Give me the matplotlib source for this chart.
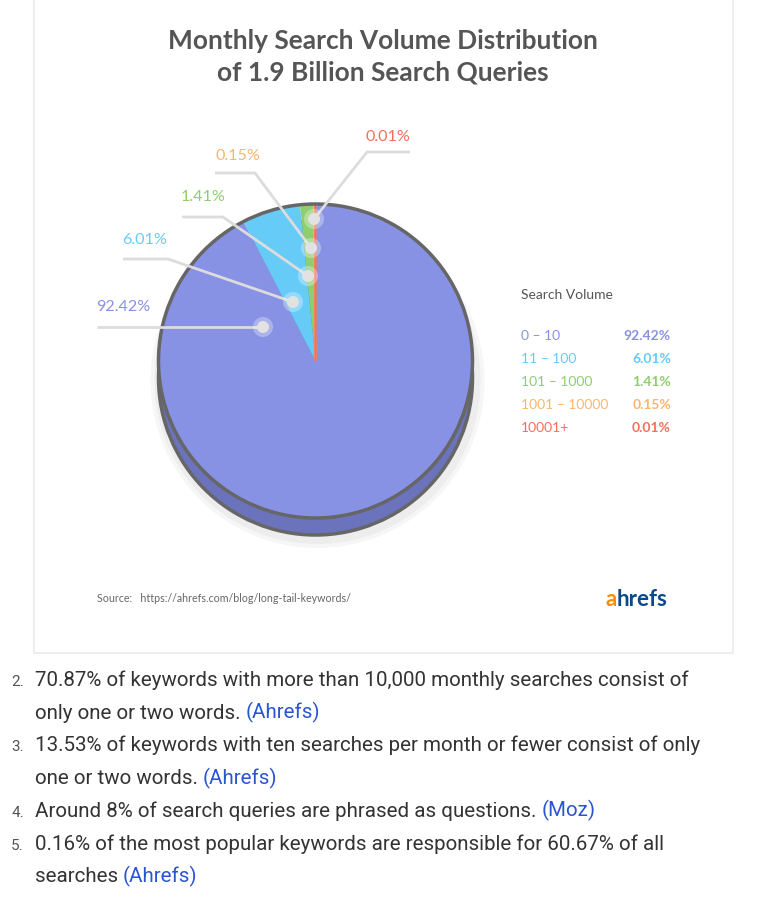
import matplotlib
matplotlib.use('Agg')
import matplotlib.pyplot as plt
from matplotlib.patches import Rectangle, Circle

# data
ranges = ['0 – 10', '11 – 100', '101 – 1000', '1001 – 10000', '10001+']
shares = [92.42, 6.01, 1.41, 0.15, 0.01]
colors = ['#8892e5', '#67cbf8', '#8fce6f', '#fbb56c', '#f2705b']
share_labels = ['92.42%', '6.01%', '1.41%', '0.15%', '0.01%']

notes = [
    ('2.', ['70.87% of keywords with more than 10,000 monthly searches consist of',
            'only one or two words.'], 'Ahrefs'),
    ('3.', ['13.53% of keywords with ten searches per month or fewer consist of only',
            'one or two words.'], 'Ahrefs'),
    ('4.', ['Around 8% of search queries are phrased as questions.'], 'Moz'),
    ('5.', ['0.16% of the most popular keywords are responsible for 60.67% of all',
            'searches'], 'Ahrefs'),
]

W, H = 758, 900
fig = plt.figure(figsize=(W / 100, H / 100), dpi=100)
ax = fig.add_axes([0, 0, 1, 1])


def Y(p):
    # pixel row (from top) -> data y
    return H - p


# card
ax.add_patch(Rectangle((33, Y(654)), 701, 656, facecolor='#eeeeee', edgecolor='none', zorder=0))
ax.add_patch(Rectangle((35, Y(652)), 697, 654, facecolor='white', edgecolor='none', zorder=0))

ax.text(383, Y(41), 'Monthly Search Volume Distribution', ha='center', va='center',
        fontsize=18.9, fontweight='bold', color='#555555', family='Lato')
ax.text(383, Y(72), 'of 1.9 Billion Search Queries', ha='center', va='center',
        fontsize=18.9, fontweight='bold', color='#555555', family='Lato')

# pie with a bit of depth
cx, cy, r = 315.5, 361, 157
for k, a in [(10, 0.25), (6, 0.35)]:
    ax.add_patch(Circle((cx + 2, Y(cy + 20)), r + k, facecolor='#dddddd', edgecolor='none',
                        alpha=a, zorder=1))
ax.add_patch(Circle((cx, Y(cy + 17)), r, facecolor='#6a73bb', edgecolor='#666666',
                    linewidth=2.5, zorder=2))
wedges, _ = ax.pie(shares, colors=colors, startangle=90, counterclock=False,
                   center=(cx, Y(cy)), radius=r, frame=True,
                   wedgeprops=dict(linewidth=0, zorder=3))
for w, c in zip(wedges[3:], colors[3:]):
    w.set_edgecolor(c)
    w.set_linewidth(1.2)
ax.add_patch(Circle((cx, Y(cy)), r, facecolor='none', edgecolor='#666666',
                    linewidth=2.5, zorder=4))

ax.set_xlim(0, W)
ax.set_ylim(0, H)
ax.set_aspect('auto')
ax.axis('off')

# leader lines: label position, elbow, dot
label_pos = [(96, 307), (122, 240), (181, 197), (215, 156), (365, 137)]
line_path = [
    [(97, 327), (263, 327)],
    [(123, 259), (168, 259), (293, 302)],
    [(182, 217), (223, 217), (308, 276)],
    [(215, 173), (255, 173), (311, 248)],
    [(410, 152), (367, 152), (314, 219)],
]
for lab, pos, path, c in zip(share_labels, label_pos, line_path, colors):
    xs = [p[0] for p in path]
    ys = [Y(p[1]) for p in path]
    ax.plot(xs, ys, color='#dcdcdc', linewidth=2, solid_capstyle='butt', zorder=5)
    ax.add_patch(Circle((xs[-1], ys[-1]), 10, facecolor='white', alpha=0.3,
                        edgecolor='none', zorder=6))
    ax.add_patch(Circle((xs[-1], ys[-1]), 6, facecolor='#e2e2e2', edgecolor='none', zorder=7))
    ax.text(pos[0], Y(pos[1]), lab, ha='left', va='center', fontsize=11.6,
            color=c, family='Lato')

# legend
ax.text(521, Y(295), 'Search Volume', ha='left', va='center', fontsize=10,
        color='#555555', family='Lato')
for i, (rg, lab, c) in enumerate(zip(ranges, share_labels, colors)):
    yy = Y(336 + 23 * i)
    ax.text(521, yy, rg, ha='left', va='center', fontsize=10, color=c, family='Lato')
    ax.text(671, yy, lab, ha='right', va='center', fontsize=10, color=c,
            family='Lato', fontweight='bold')

# footer
ax.text(97, Y(598), 'Source:   https://ahrefs.com/blog/long-tail-keywords/', ha='left',
        va='center', fontsize=7.7, color='#666666', family='Lato')
fig.canvas.draw()
renderer = fig.canvas.get_renderer()
t = ax.text(605, Y(599), 'a', ha='left', va='center', fontsize=16, fontweight='bold',
            color='#ff8a00', family='Lato')
bb = t.get_window_extent(renderer=renderer)
ax.text(bb.x1, Y(599), 'hrefs', ha='left', va='center', fontsize=16, fontweight='bold',
        color='#0b4a8a', family='Lato')

# notes under the card
row = 0
y0, step = 680, 32.7
for num, lines, link in notes:
    ax.text(24, Y(y0 + step * row) - 6, num, ha='right', va='baseline', fontsize=11,
            color='#555555', family='Roboto')
    for j, ln in enumerate(lines):
        yy = Y(y0 + step * row) - 6
        tt = ax.text(35, yy, ln, ha='left', va='baseline', fontsize=14.8,
                     color='#333333', family='Roboto')
        if j == len(lines) - 1:
            ext = tt.get_window_extent(renderer=renderer)
            ax.text(ext.x1 + 5, yy, '(' + link + ')', ha='left', va='baseline',
                    fontsize=14.8, color='#2a55d0', family='Roboto')
        row += 1

fig.savefig('out.png', dpi=100)
